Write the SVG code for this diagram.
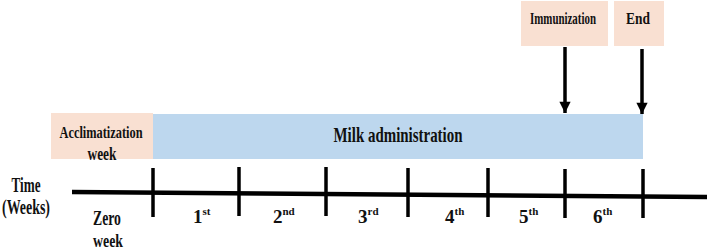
<svg xmlns="http://www.w3.org/2000/svg" width="707" height="250" viewBox="0 0 707 250">
<style>
.t{font-family:"Liberation Serif","Times New Roman",serif;font-weight:bold;fill:#111;}
.peach{fill:#f9e0d2;}
.blue{fill:#bdd7ee;}
.tick{stroke:#000;stroke-width:3.5;}
.arrow{stroke:#000;stroke-width:3.5;fill:none;}
.sup{font-size:11px;}
</style>
<defs>
<marker id="ah" viewBox="0 0 10 10" refX="10" refY="5" markerWidth="3.8" markerHeight="3.2" orient="auto" markerUnits="strokeWidth">
<path d="M0,0 L10,5 L0,10 z" fill="#000"/>
</marker>
</defs>
<g id="acclimatization">
<rect class="peach" x="51" y="113" width="102" height="46"/>
<text class="t" x="101" y="138" font-size="17" text-anchor="middle" textLength="83" lengthAdjust="spacingAndGlyphs">Acclimatization</text>
<text class="t" x="102" y="160" font-size="18" text-anchor="middle" textLength="29" lengthAdjust="spacingAndGlyphs">week</text>
</g>
<g id="milk">
<rect class="blue" x="153" y="114" width="490" height="45"/>
<text class="t" x="398" y="142" font-size="21" text-anchor="middle" textLength="129" lengthAdjust="spacingAndGlyphs">Milk administration</text>
</g>
<g id="immunization">
<rect class="peach" x="521" y="1" width="87" height="45"/>
<text class="t" transform="translate(563,24) scale(0.66,1)" x="0" y="0" font-size="16.5" text-anchor="middle">Immunization</text>
</g>
<g id="end">
<rect class="peach" x="614" y="1" width="50" height="45"/>
<text class="t" transform="translate(638,24) scale(0.79,1)" x="0" y="0" font-size="17" text-anchor="middle">End</text>
</g>
<g id="connectors">
<line class="arrow" x1="565" y1="47" x2="565" y2="113" marker-end="url(#ah)"/>
<line class="arrow" x1="642" y1="49" x2="642" y2="114" marker-end="url(#ah)"/>
</g>
<g id="timeline">
<line x1="72" y1="192" x2="707" y2="197" stroke="#000" stroke-width="4.5"/>
<line class="tick" x1="153" y1="168" x2="153" y2="217"/>
<line class="tick" x1="239" y1="167" x2="239" y2="216"/>
<line class="tick" x1="326" y1="167" x2="326" y2="216"/>
<line class="tick" x1="408" y1="168" x2="408" y2="217"/>
<line class="tick" x1="488" y1="168" x2="488" y2="217"/>
<line class="tick" x1="565" y1="169" x2="565" y2="218"/>
<line class="tick" x1="643" y1="169" x2="643" y2="218"/>
</g>
<g id="labels">
<text class="t" x="26" y="192" font-size="21" text-anchor="middle" textLength="29" lengthAdjust="spacingAndGlyphs">Time</text>
<text class="t" x="26" y="214" font-size="21" text-anchor="middle" textLength="48" lengthAdjust="spacingAndGlyphs">(Weeks)</text>
<text class="t" x="107" y="225" font-size="20" text-anchor="middle" textLength="28" lengthAdjust="spacingAndGlyphs">Zero</text>
<text class="t" x="108" y="247" font-size="19" text-anchor="middle" textLength="30" lengthAdjust="spacingAndGlyphs">week</text>
<text class="t" x="193" y="223" font-size="19">1<tspan class="sup" dy="-8">st</tspan></text>
<text class="t" x="273" y="223" font-size="19">2<tspan class="sup" dy="-8">nd</tspan></text>
<text class="t" x="358" y="223" font-size="19">3<tspan class="sup" dy="-8">rd</tspan></text>
<text class="t" x="445" y="223" font-size="19">4<tspan class="sup" dy="-8">th</tspan></text>
<text class="t" x="519" y="223" font-size="19">5<tspan class="sup" dy="-8">th</tspan></text>
<text class="t" x="593" y="223" font-size="19">6<tspan class="sup" dy="-8">th</tspan></text>
</g>
</svg>
